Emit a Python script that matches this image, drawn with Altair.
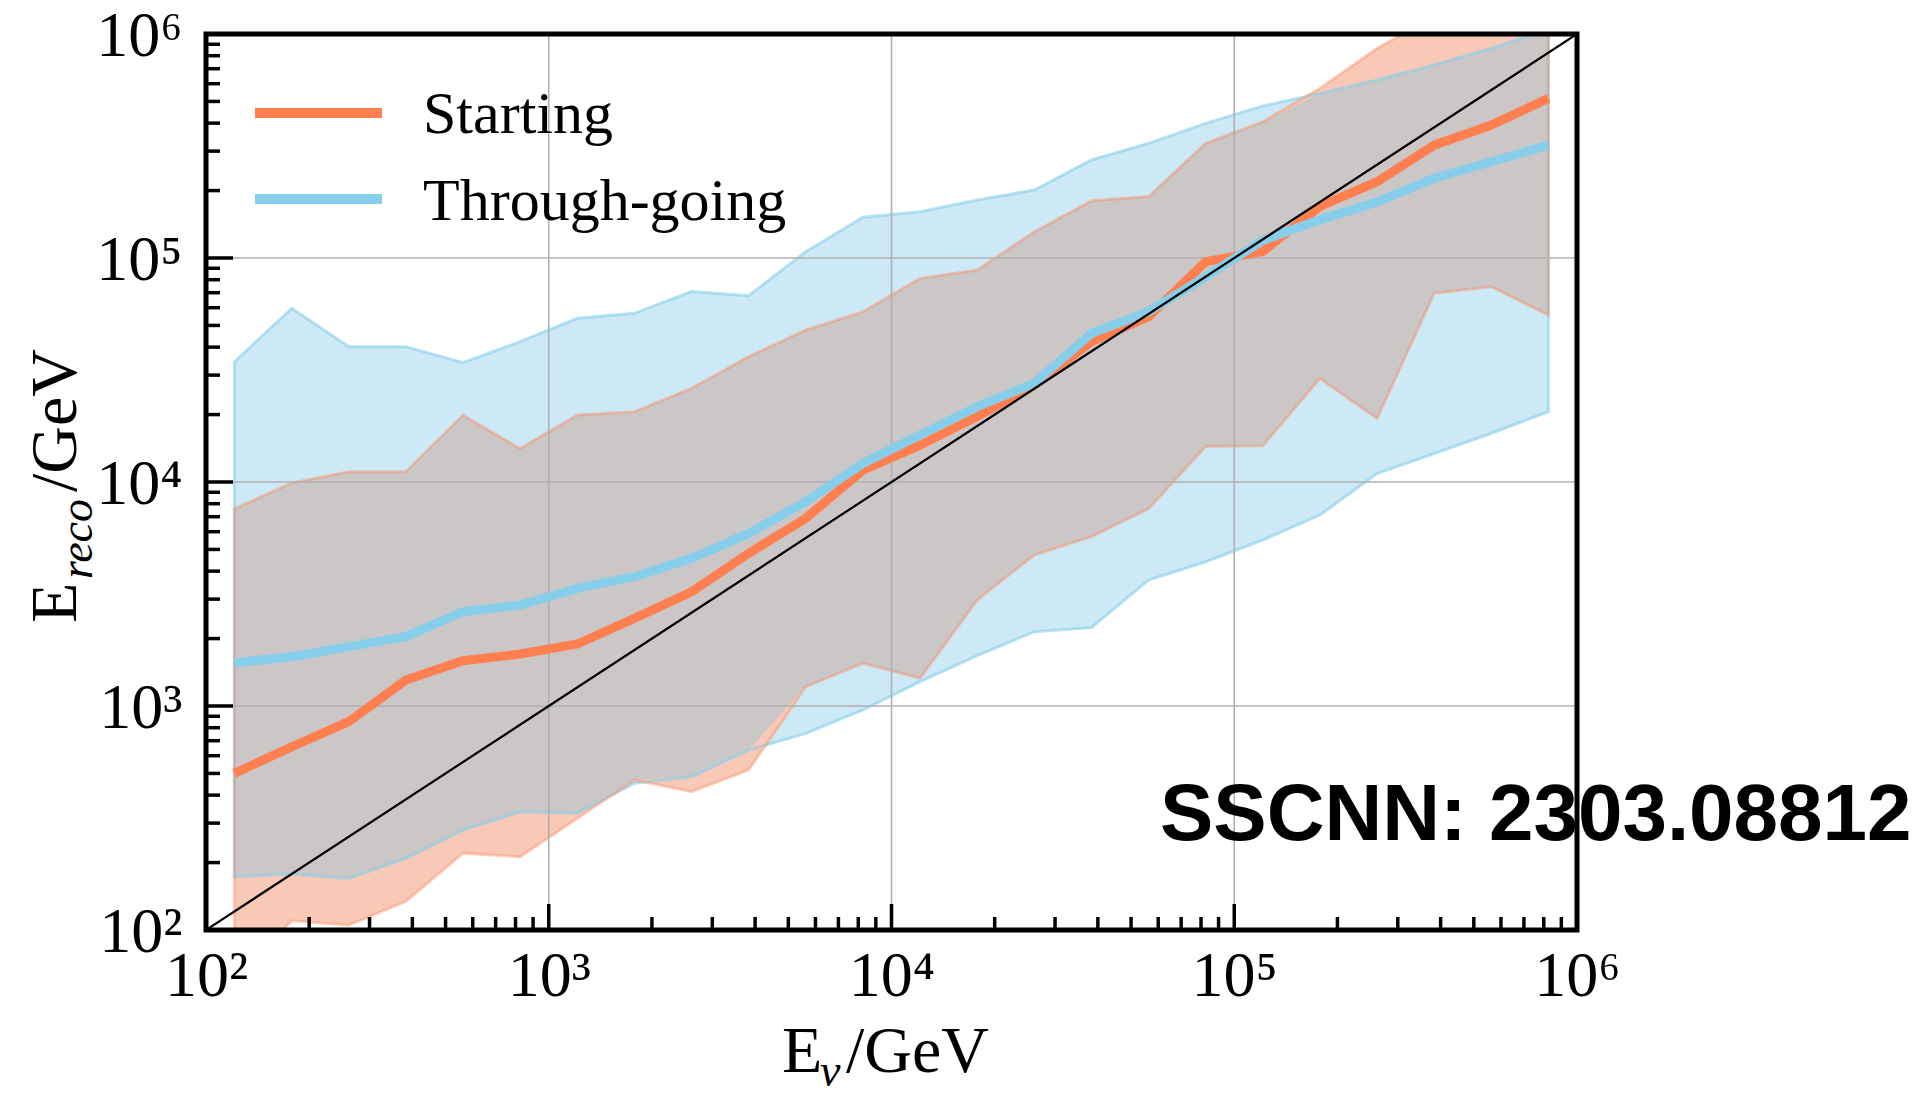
import altair as alt
import pandas as pd

# ---------------- data ----------------
e_true = [121, 178, 261, 383, 562, 825, 1212, 1778, 2610, 3831, 5623, 8254,
          12115, 17783, 26102, 38312, 56234, 82540, 121153, 177828, 261016,
          383119, 562341, 825404]

start_med = [500, 658, 851, 1306, 1593, 1706, 1891, 2463, 3237, 4805, 6890, 11300,
             14600, 19600, 27100, 42300, 54700, 96300, 107000, 170000, 219000,
             319000, 392000, 516000]
start_lo = [60, 110, 105, 134, 220, 212, 315, 467, 414, 518, 1220, 1552,
            1330, 2972, 4722, 5700, 7600, 14400, 14500, 29000, 19200,
            69600, 74400, 55600]
start_hi = [7600, 9900, 11100, 11100, 19900, 14100, 19900, 20600, 26200, 36300, 47700, 57600,
            81100, 88400, 131000, 180000, 188000, 325000, 406000, 572000, 864000,
            1200000, 1500000, 2000000]

thru_med = [1561, 1660, 1840, 2040, 2637, 2825, 3351, 3777, 4563, 5898, 8169, 12100,
            16200, 21700, 27600, 46100, 57600, 82500, 120000, 148000, 178000,
            227000, 269000, 319000]
thru_lo = [173, 178, 170, 209, 279, 337, 332, 452, 483, 636, 755, 960,
           1284, 1678, 2146, 2238, 3651, 4405, 5508, 7125, 10900,
           13400, 16500, 20600]
thru_hi = [34400, 59600, 40200, 40200, 34100, 42300, 53800, 56600, 70800, 67900, 106700, 152000,
           161000, 181500, 201000, 274000, 325000, 399000, 477000, 543000, 623000,
           727000, 864000, 1050000]

diag = [100, 1000000]
axis_values = [100, 1000, 10000, 100000, 1000000]
major_ticks = [1000, 10000, 100000]
minor_ticks = [m * 10 ** k for k in (2, 3, 4, 5) for m in range(2, 10)]
legend_labels = ["Starting", "Through-going"]
annotation = "SSCNN: 2303.08812"

# ---------------- styling ----------------
W, H = 1371, 896
ORANGE = "#ff7f50"
BLUE = "#87ceeb"
BLUE_FILL = "#cce9f5"
ORANGE_FILL = "#f9c9b8"
GRAY = "#cbc7c6"
GRID = "#b0b0b0"
SERIF = "Liberation Serif"

df = pd.DataFrame({
    "e": e_true,
    "s_med": start_med, "s_lo": start_lo, "s_hi": start_hi,
    "t_med": thru_med, "t_lo": thru_lo, "t_hi": thru_hi,
})
df["o_lo"] = df[["s_lo", "t_lo"]].max(axis=1)
df["o_hi"] = df[["s_hi", "t_hi"]].min(axis=1)

xs = alt.Scale(type="log", domain=[100, 1000000], nice=False)
ys = alt.Scale(type="log", domain=[100, 1000000], nice=False)

sup = "'10' + ['⁰','¹','²','³','⁴','⁵','⁶'][round(log(datum.value)/LN10)]"
xaxis = alt.Axis(values=axis_values, labelExpr=sup, title=None, grid=False, ticks=False,
                 domain=False, labelFont=SERIF, labelFontSize=64, labelColor="black",
                 labelPadding=14, labelFlush=False, labelOverlap=False, labelBound=False)
yaxis = alt.Axis(values=axis_values, labelExpr=sup, title=None, grid=False, ticks=False,
                 domain=False, labelFont=SERIF, labelFontSize=64, labelColor="black",
                 labelPadding=24, labelFlush=False, labelOverlap=False, labelBound=False,
                 labelBaseline="alphabetic", labelOffset=21)


def X(f):
    return alt.X(f, type="quantitative", scale=xs, axis=xaxis)


def Y(f):
    return alt.Y(f, type="quantitative", scale=ys, axis=yaxis)


base = alt.Chart(df)

blue_fill = base.mark_area(color=BLUE_FILL, clip=True).encode(x=X("e"), y=Y("t_lo"), y2="t_hi")
orange_fill = base.mark_area(color=ORANGE_FILL, clip=True).encode(x=X("e"), y=Y("s_lo"), y2="s_hi")
gray_fill = base.mark_area(color=GRAY, clip=True).encode(x=X("e"), y=Y("o_lo"), y2="o_hi")
blue_edge = base.mark_area(fillOpacity=0, stroke=BLUE, strokeWidth=3, strokeOpacity=0.6,
                           clip=True).encode(x=X("e"), y=Y("t_lo"), y2="t_hi")
orange_edge = base.mark_area(fillOpacity=0, stroke=ORANGE, strokeWidth=3, strokeOpacity=0.35,
                             clip=True).encode(x=X("e"), y=Y("s_lo"), y2="s_hi")

gdf = pd.DataFrame({"v": major_ticks})
grid_x = alt.Chart(gdf).mark_rule(color=GRID, strokeWidth=1.6).encode(
    x=X("v"), y=alt.value(0), y2=alt.value(H))
grid_y = alt.Chart(gdf).mark_rule(color=GRID, strokeWidth=1.6).encode(
    y=Y("v"), x=alt.value(0), x2=alt.value(W))

s_line = base.mark_line(color=ORANGE, strokeWidth=9, clip=True).encode(x=X("e"), y=Y("s_med"))
t_line = base.mark_line(color=BLUE, strokeWidth=9, clip=True).encode(x=X("e"), y=Y("t_med"))

ddf = pd.DataFrame({"d": diag})
diag_line = alt.Chart(ddf).mark_line(color="black", strokeWidth=2.2, clip=True).encode(
    x=X("d"), y=Y("d"))

mdf = pd.DataFrame({"v": minor_ticks})
xt_major = alt.Chart(gdf).mark_rule(color="black", strokeWidth=3.5).encode(
    x=X("v"), y=alt.value(H), y2=alt.value(H - 26))
xt_minor = alt.Chart(mdf).mark_rule(color="black", strokeWidth=3.5).encode(
    x=X("v"), y=alt.value(H), y2=alt.value(H - 13))
yt_major = alt.Chart(gdf).mark_rule(color="black", strokeWidth=3.5).encode(
    y=Y("v"), x=alt.value(0), x2=alt.value(27))
yt_minor = alt.Chart(mdf).mark_rule(color="black", strokeWidth=3.5).encode(
    y=Y("v"), x=alt.value(0), x2=alt.value(14))

one = pd.DataFrame({"k": [0]})
frame = alt.Chart(one).mark_rect(filled=False, stroke="black", strokeWidth=5).encode(
    x=alt.value(0), x2=alt.value(W), y=alt.value(0), y2=alt.value(H))


def txt(s, x, y, size, font=SERIF, style="normal", weight="normal", angle=0):
    return alt.Chart(one).mark_text(
        font=font, fontSize=size, fontStyle=style, fontWeight=weight, angle=angle,
        align="left", baseline="alphabetic", color="black").encode(
        x=alt.value(x), y=alt.value(y), text=alt.value(s))


leg_o = alt.Chart(one).mark_rule(color=ORANGE, strokeWidth=10).encode(
    x=alt.value(49), x2=alt.value(176), y=alt.value(79))
leg_b = alt.Chart(one).mark_rule(color=BLUE, strokeWidth=10).encode(
    x=alt.value(49), x2=alt.value(176), y=alt.value(165))
leg_t1 = txt(legend_labels[0], 217, 99, 60)
leg_t2 = txt(legend_labels[1], 217, 186, 60)

xt1 = txt("E", 576, 1038, 66)
xt2 = txt("ν", 614, 1052, 46, style="italic")
xt3 = txt("/GeV", 640, 1038, 66)

yt1 = txt("E", -130, 589, 66, angle=270)
yt2 = txt("reco", -114, 545, 46, style="italic", angle=270)
yt3 = txt("/GeV", -130, 458, 66, angle=270)

ann = txt(annotation, 954, 806, 80, font="Liberation Sans", weight="bold")

chart = alt.layer(
    blue_fill, orange_fill, gray_fill, blue_edge, orange_edge,
    grid_x, grid_y, s_line, t_line, diag_line,
    xt_major, xt_minor, yt_major, yt_minor, frame,
    leg_o, leg_b, leg_t1, leg_t2, xt1, xt2, xt3, yt1, yt2, yt3, ann,
).properties(
    width=W, height=H,
    autosize=alt.AutoSizeParams(type="none"),
    padding={"left": 206, "top": 34, "right": 345, "bottom": 165},
    background="white",
).configure_view(strokeWidth=0)

chart.save("out.html", embed_options={"renderer": "svg", "actions": False})
